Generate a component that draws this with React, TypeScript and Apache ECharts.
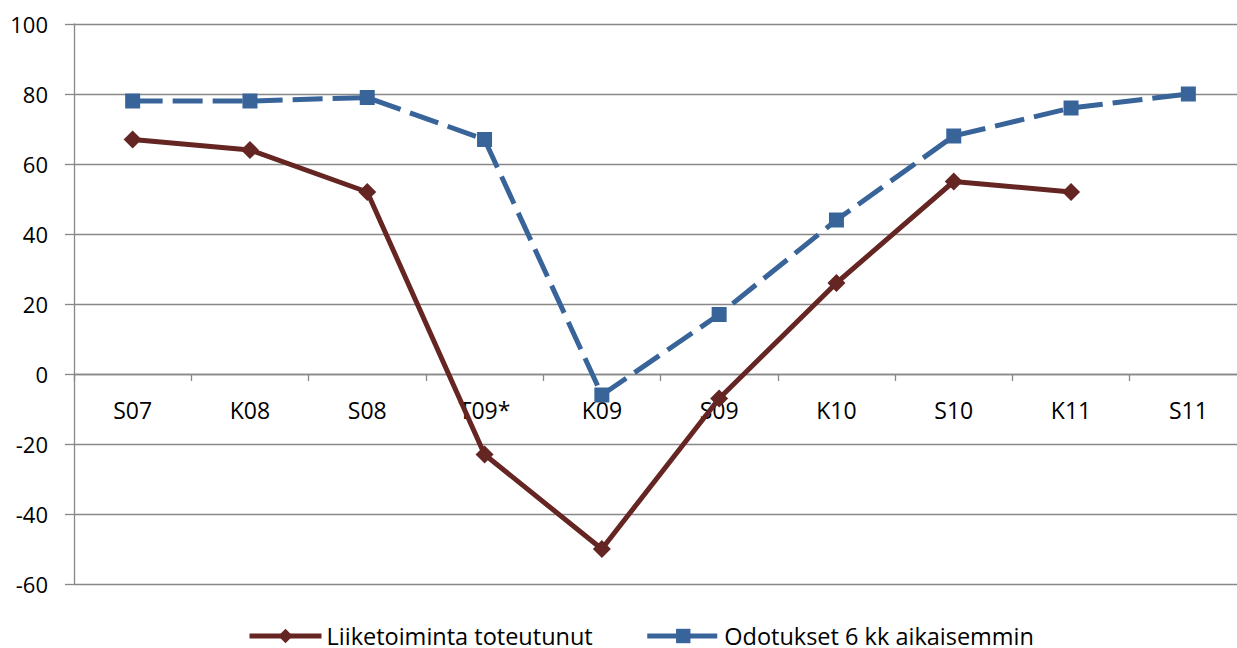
import React, { useEffect, useRef } from "react";
import * as echarts from "echarts";

const categories = ["S07", "K08", "S08", "T09*", "K09", "S09", "K10", "S10", "K11", "S11"];
const actualName = "Liiketoiminta toteutunut";
const expectName = "Odotukset 6 kk aikaisemmin";
const actualValues = [67, 64, 52, -23, -50, -7, 26, 55, 52, null];
const expectValues = [78, 78, 79, 67, -6, 17, 44, 68, 76, 80];
const yMin = -60;
const yMax = 100;
const yStep = 20;

export default function App() {
  const ref = useRef<HTMLDivElement>(null);
  useEffect(() => {
    if (!ref.current) return;
    const chart = echarts.init(ref.current, null, { renderer: "svg" });
    const font = "'Open Sans', 'Liberation Sans', sans-serif";
    const gray = "#888888";
    chart.setOption({
      animation: false,
      backgroundColor: "#ffffff",
      textStyle: { fontFamily: font },
      grid: { left: 74, right: 13, top: 24, bottom: 64, containLabel: false },
      legend: {
        left: 247,
        top: 624,
        padding: 0,
        itemWidth: 72,
        itemHeight: 18,
        itemGap: 52,
        lineStyle: { width: 5 },
        textStyle: { fontFamily: font, fontSize: 23.5, lineHeight: 24, color: "#000" },
        data: [actualName, expectName],
      },
      xAxis: {
        type: "category",
        data: categories,
        boundaryGap: true,
        axisLine: { onZero: true, lineStyle: { color: gray, width: 1.3 } },
        axisTick: { show: true, length: 7, inside: false, lineStyle: { color: gray, width: 1.3 } },
        axisLabel: { fontFamily: font, fontSize: 23, color: "#000", margin: -186 },
        splitLine: { show: false },
      },
      yAxis: {
        type: "value",
        min: yMin,
        max: yMax,
        interval: yStep,
        axisLine: { show: true, lineStyle: { color: gray, width: 1.3 } },
        axisTick: { show: true, length: 9, lineStyle: { color: gray, width: 1.3 } },
        axisLabel: { fontFamily: font, fontSize: 22, color: "#000", margin: 26 },
        splitLine: { show: true, lineStyle: { color: gray, width: 1.3 } },
      },
      series: [
        {
          name: actualName,
          type: "line",
          data: actualValues,
          symbol: "diamond",
          symbolSize: 18,
          showAllSymbol: true,
          connectNulls: false,
          lineStyle: { color: "#652523", width: 5 },
          itemStyle: { color: "#652523", borderWidth: 0 },
          z: 2,
        },
        {
          name: expectName,
          type: "line",
          data: expectValues,
          symbol: "rect",
          symbolSize: 15,
          showAllSymbol: true,
          lineStyle: { color: "#38649A", width: 5, type: [30, 10] },
          itemStyle: { color: "#38649A", borderWidth: 0 },
          z: 3,
        },
      ],
    });
    return () => chart.dispose();
  }, []);
  return (
    <div style={{ position: "absolute", left: 0, top: 0, width: 1237, height: 648, overflow: "hidden", background: "#fff" }}>
      <div ref={ref} style={{ width: 1260, height: 648 }} />
    </div>
  );
}
